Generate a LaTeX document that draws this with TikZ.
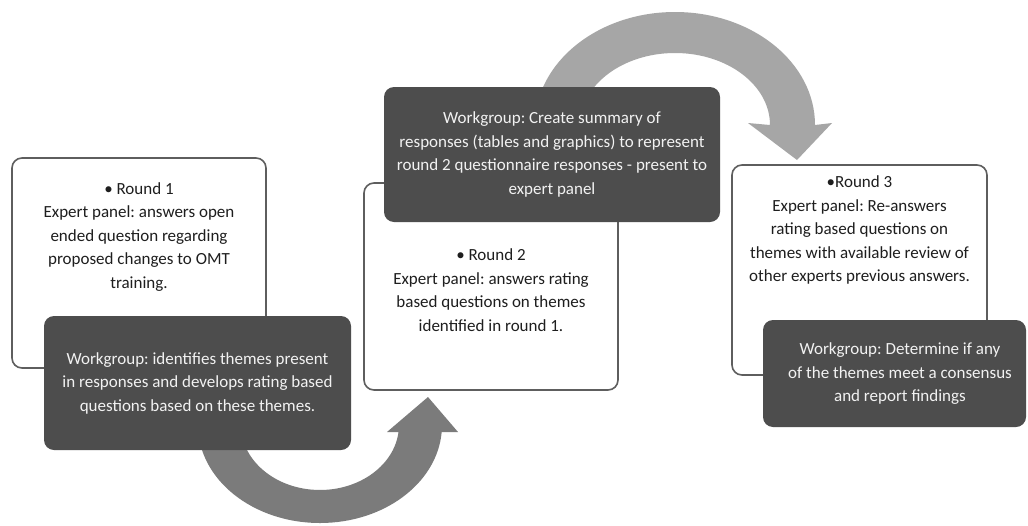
\documentclass[tikz,border=0pt]{standalone}
\usepackage{fontspec}
\setmainfont{Carlito}
\frenchspacing
\definecolor{boxborder}{HTML}{5E5E5E}
\definecolor{darkfill}{HTML}{4D4D4D}
\definecolor{arrowdark}{HTML}{7B7B7B}
\definecolor{arrowlight}{HTML}{A6A6A6}
\definecolor{inktext}{HTML}{1E1E1E}
\definecolor{lighttext}{HTML}{F2F2F2}
\begin{document}
\begin{tikzpicture}[x=0.75pt,y=-0.75pt,
  whitebox/.style={draw=boxborder, line width=1.2pt, fill=white, rounded corners=7.5pt, inner sep=0pt},
  darkbox/.style={fill=darkfill, rounded corners=7.5pt, text=lighttext, align=center, inner sep=0pt,
    font=\fontsize{12.75}{17.6}\selectfont\frenchspacing},
  roundtext/.style={text=inktext, align=center, inner sep=0pt, font=\fontsize{12.75}{17.6}\selectfont\frenchspacing}
]
\useasboundingbox[fill=white] (0,0) rectangle (1028,525);

% bottom curved arrow (drawn under the first dark box)
\fill[arrowdark] (198,425) arc[start angle=180, end angle=4.1, x radius=122, y radius=98]
  -- (458,432) -- (428,397) -- (387,432) -- (398.5,432)
  arc[start angle=6.2, end angle=180, x radius=79, y radius=65] -- cycle;

% top curved arrow (drawn under the second dark box)
\fill[arrowlight] (535,125) arc[start angle=180, end angle=360, x radius=140, y radius=113]
  -- (832,123) -- (797,160) -- (748,123) -- (770,125)
  arc[start angle=360, end angle=180, x radius=95, y radius=72] -- cycle;

% Round 1
\node[whitebox, minimum width=190.5pt, minimum height=157.5pt] (box1) at (139,263) {};
\node[roundtext] (t1) at (139,237) {• Round 1\\Expert panel: answers open\\ended question regarding\\proposed changes to OMT\\training.};
\node[darkbox, minimum width=230.25pt, minimum height=100.5pt] (dark1) at (197.5,383)
  {Workgroup: identifies themes present\\in responses and develops rating based\\questions based on these themes.};

% Round 2
\node[whitebox, minimum width=190.5pt, minimum height=155.25pt] (box2) at (491,286.5) {};
\node[roundtext] (t2) at (491,290) {• Round 2\\Expert panel: answers rating\\based questions on themes\\identified in round 1.};
\node[darkbox, minimum width=252pt, minimum height=101.25pt] (dark2) at (552,154.5)
  {Workgroup: Create summary of\\responses (tables and graphics) to represent\\round 2 questionnaire responses - present to\\expert panel};

% Round 3
\node[whitebox, minimum width=191.25pt, minimum height=157.5pt] (box3) at (859.5,270) {};
\node[roundtext] (t3) at (859.5,230) {•Round 3\\Expert panel: Re-answers\\rating based questions on\\themes with available review of\\other experts previous answers.};
\node[darkbox, minimum width=197.25pt, minimum height=80.25pt] (dark3) at (894.5,373.5) {};
\node[roundtext, text=lighttext] (t4) at (900,374) {Workgroup: Determine if any\\of the themes meet a consensus\\and report findings};
\end{tikzpicture}
\end{document}
